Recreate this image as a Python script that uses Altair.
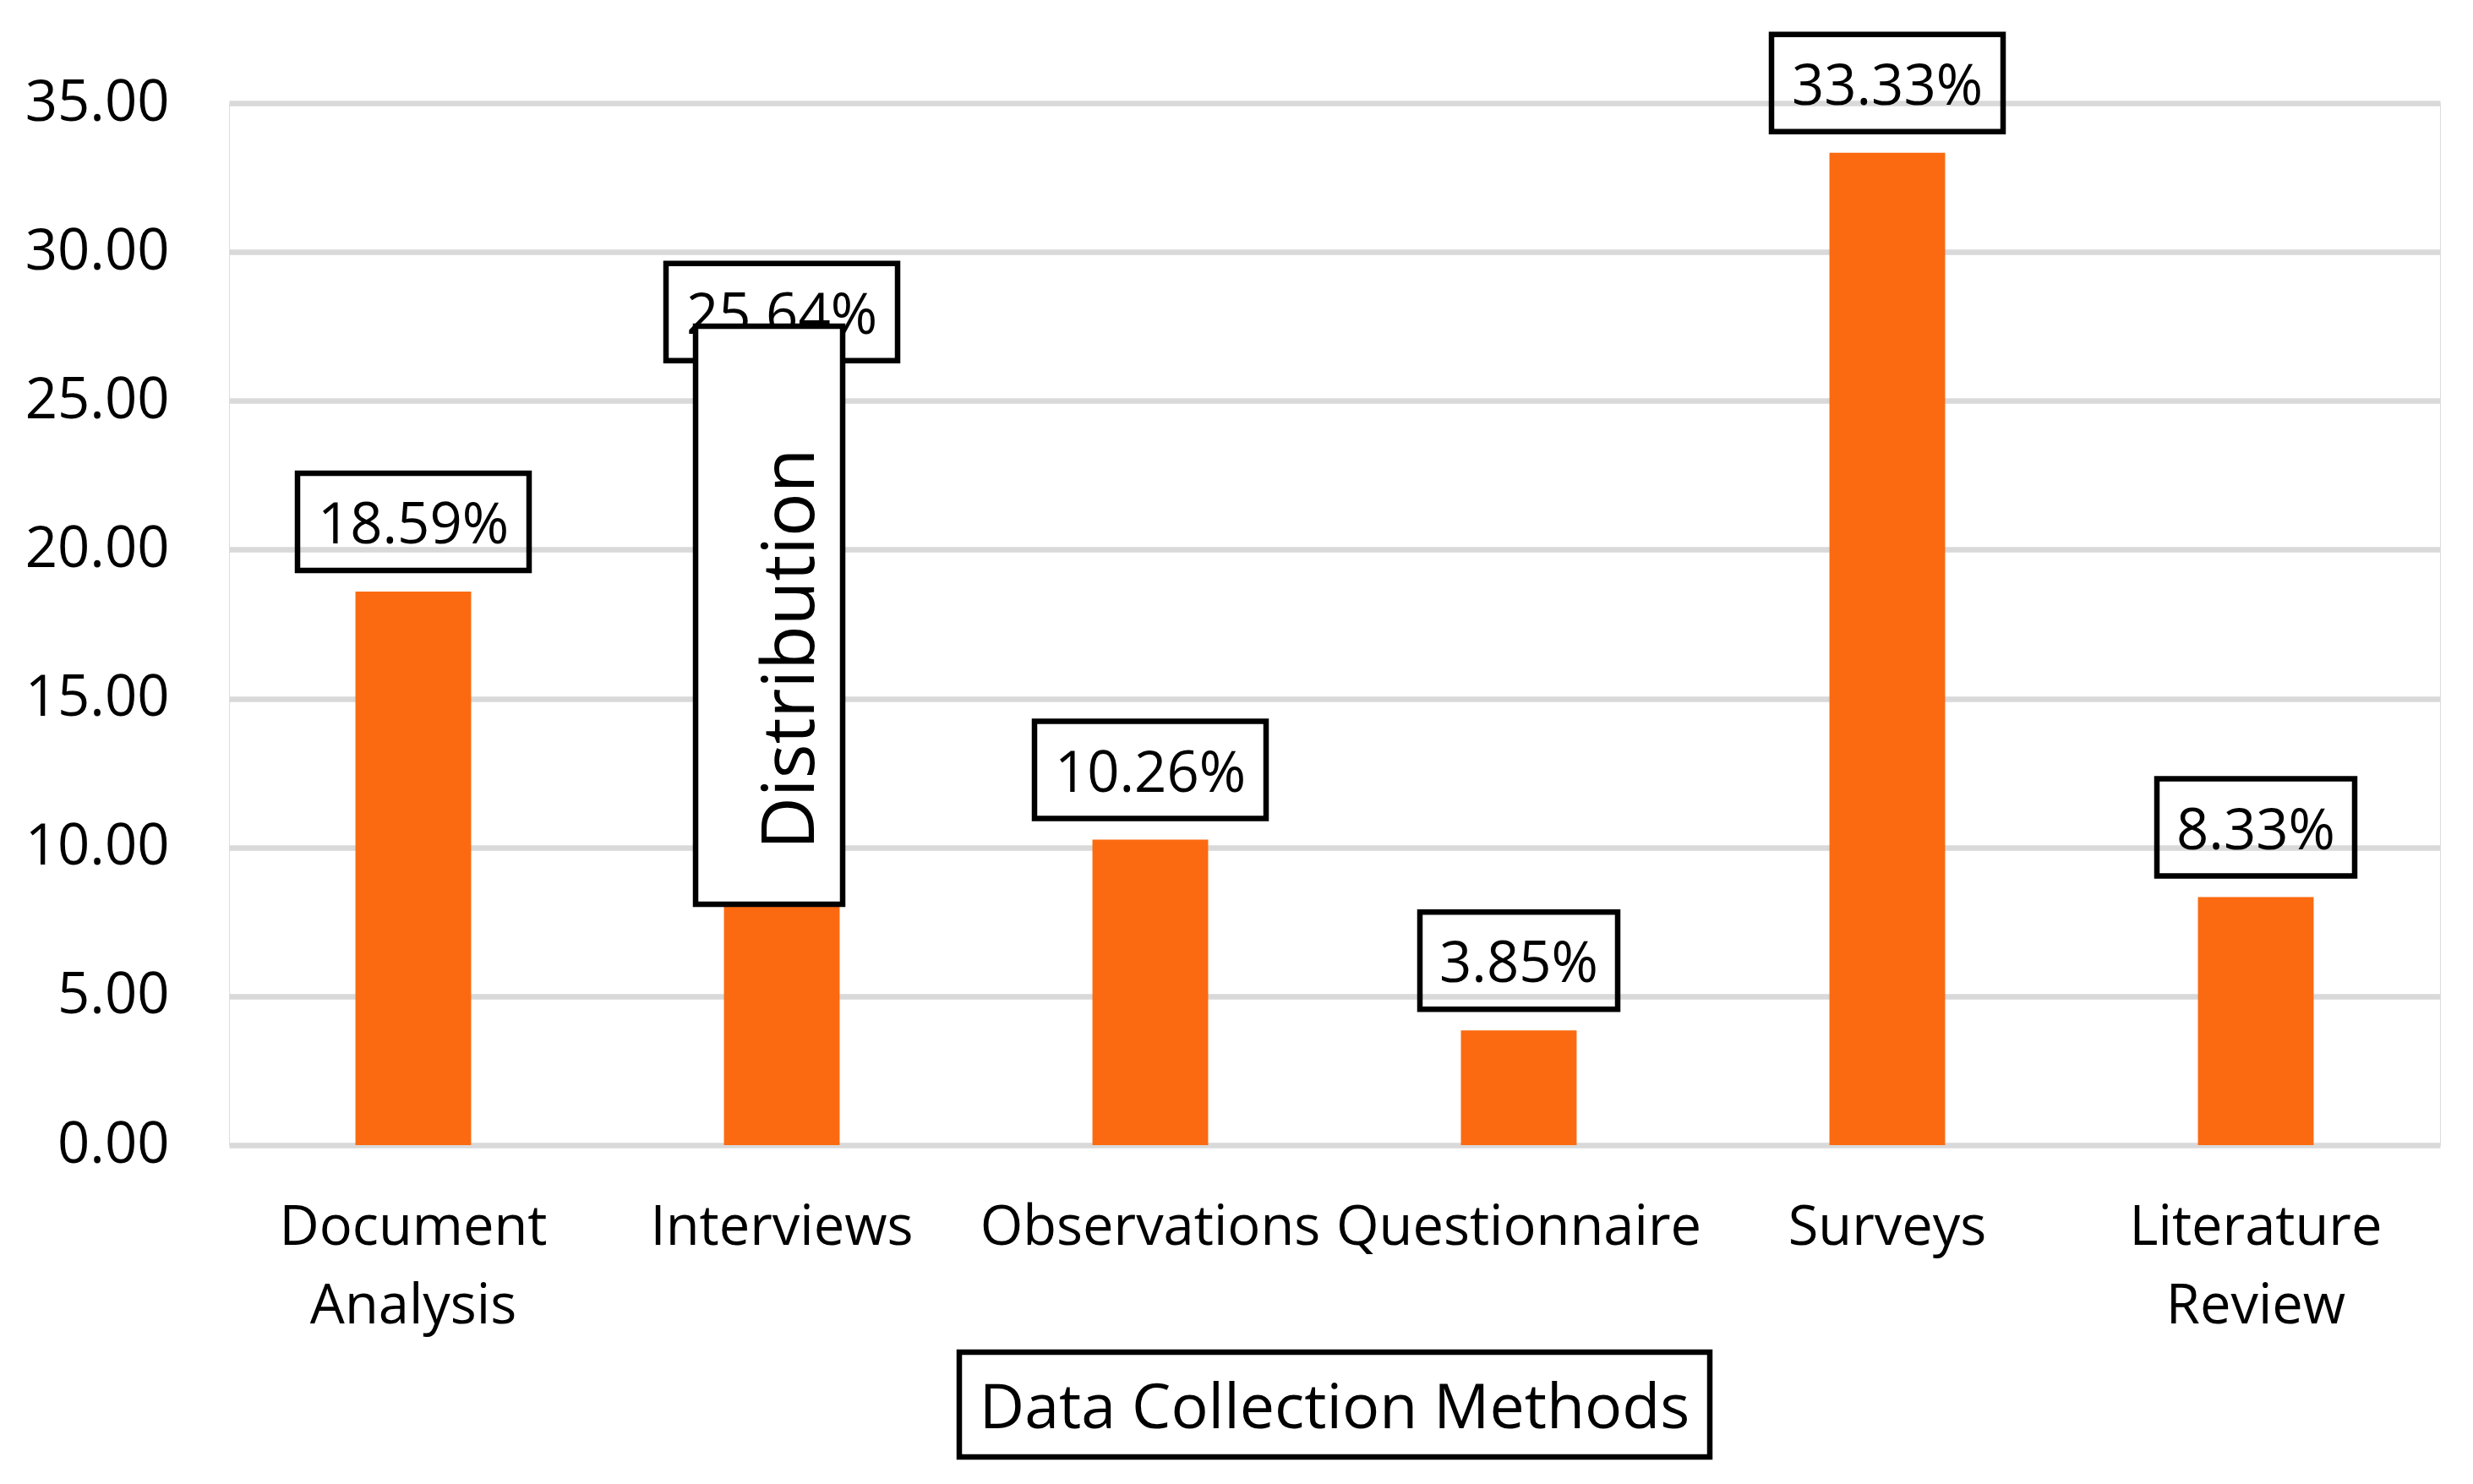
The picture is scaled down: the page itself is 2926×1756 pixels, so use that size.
import altair as alt
import pandas as pd

categories = ["Document Analysis", "Interviews", "Observations", "Questionnaire", "Surveys", "Literature Review"]
values = [18.59, 25.64, 10.26, 3.85, 33.33, 8.33]
labels = ["18.59%", "25.64%", "10.26%", "3.85%", "33.33%", "8.33%"]
y_ticks = [0, 5, 10, 15, 20, 25, 30, 35]
x_title = "Data Collection Methods"
y_title = "Distribution"

df = pd.DataFrame({"category": categories, "value": values, "label": labels})

W, H = 2616, 1233
FONT = "Open Sans"
ORANGE = "#FB6A10"

x_enc = alt.X(
    "category:N",
    sort=categories,
    scale=alt.Scale(paddingInner=0.686, paddingOuter=0.343),
    axis=alt.Axis(
        title=None,
        labelAngle=0,
        labelExpr="split(datum.label, ' ')",
        labelFont=FONT,
        labelFontSize=65,
        labelColor="black",
        labelPadding=66,
        labelLineHeight=93,
        labelLimit=2000,
        ticks=False,
        tickSize=0,
        domain=False,
        grid=False,
        labelOverlap=False,
    ),
)
y_enc = alt.Y(
    "value:Q",
    scale=alt.Scale(domain=[0, 35], nice=False),
    axis=alt.Axis(
        title=None,
        values=y_ticks,
        format=".2f",
        labelFont=FONT,
        labelFontSize=67,
        labelColor="black",
        labelPadding=71,
        ticks=False,
        tickSize=0,
        domain=False,
        grid=True,
        gridColor="#D9D9D9",
        gridWidth=6.5,
    ),
)

base = alt.Chart(df)

bars = base.mark_bar(color=ORANGE).encode(x=x_enc, y=y_enc)

label_boxes = base.transform_calculate(
    bw="40*length(datum.label)+34"
).mark_bar(
    fill=None, fillOpacity=0, stroke="black", strokeWidth=6.5, yOffset=-25, y2Offset=-140
).encode(
    x=alt.X("category:N", sort=categories),
    y=alt.Y("value:Q"),
    y2=alt.Y2("value"),
    size=alt.Size("bw:Q", scale=None, legend=None),
)

label_text = base.mark_text(
    font=FONT, fontSize=67, color="black", baseline="alphabetic", align="center", dy=-57
).encode(
    x=alt.X("category:N", sort=categories),
    y=alt.Y("value:Q"),
    text="label:N",
)

one = alt.Data(values=[{}])

y_box = alt.Chart(one).mark_rect(fill="white", stroke="black", strokeWidth=6.5).encode(
    x=alt.value(552), x2=alt.value(726), y=alt.value(264), y2=alt.value(948)
)
y_text = alt.Chart(one).mark_text(
    font=FONT, fontSize=86, color="black", angle=270, align="center", baseline="alphabetic"
).encode(x=alt.value(692), y=alt.value(646), text=alt.value(y_title))

x_box = alt.Chart(one).mark_rect(fill="white", stroke="black", strokeWidth=6.5).encode(
    x=alt.value(W / 2 - 444), x2=alt.value(W / 2 + 444), y=alt.value(1478), y2=alt.value(1602)
)
x_text = alt.Chart(one).mark_text(
    font=FONT, fontSize=73.5, color="black", align="center", baseline="alphabetic"
).encode(x=alt.value(W / 2), y=alt.value(1568), text=alt.value(x_title))

chart = alt.layer(bars, label_boxes, label_text, y_box, y_text, x_box, x_text).properties(
    width=W,
    height=H,
    autosize=alt.AutoSizeParams(type="none"),
    padding={"left": 263, "top": 114, "right": 20, "bottom": 380},
).configure_view(stroke=None).configure(background="white")

chart.save("out.html", embed_options={"renderer": "svg", "actions": False})
